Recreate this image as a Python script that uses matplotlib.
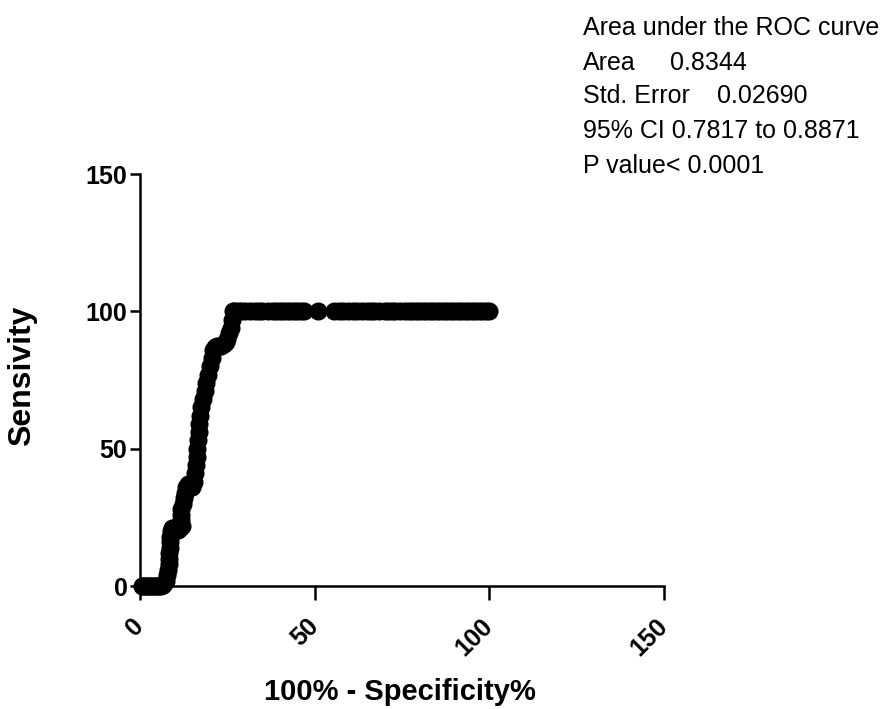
import matplotlib
matplotlib.use('Agg')
from matplotlib import pyplot as plt

# ROC points (100% - specificity%, sensitivity%)
spec_x = [0.5, 1, 1.5, 2, 2.5, 3, 3.5, 4, 4.5, 5, 5.5, 6, 6.5, 7,
          7.5, 7.8, 8, 8.2, 8.3, 8.4, 8.5, 8.6, 8.7, 8.8, 9.2, 9.8, 10.5, 11, 11.5, 12,
          11.8, 11.7, 11.8, 12.2, 12.5, 12.8, 13.2, 13.8, 14.5, 15,
          15.5, 15.8, 16, 16.2, 16.4, 16.6, 16.8, 17, 17.3, 17.6, 18, 18.5, 19, 19.5,
          20, 20.5, 21, 21.5, 22, 22.7, 23.3, 24, 24.5, 25, 25.5, 26, 26.3, 26.5,
          27, 28, 29, 30, 31.5, 33, 34, 35, 36.5, 38, 39, 40, 41, 42, 43, 44, 45, 46, 47,
          51, 55.5, 57, 58, 59.5, 61, 62, 63.5, 65, 66, 67, 68.5, 70, 71, 72, 73, 74.5,
          76, 77, 78, 79, 80, 81, 82, 83, 84, 85, 86, 87, 88, 89, 90, 91, 92, 93, 94,
          95, 96, 97, 98, 99, 100]
sens_y = [0, 0, 0, 0, 0, 0, 0, 0, 0, 0, 0, 0, 0.5, 1,
          2, 4, 6, 8, 10, 12, 14, 16, 18, 20, 21, 21, 21, 20.5, 21, 22,
          24, 26, 28, 30, 32, 34, 36, 37, 36, 36,
          38, 41, 44, 47, 50, 53, 56, 59, 62, 65, 68, 71, 74, 77,
          80, 83, 86, 87, 87.5, 87.5, 87.5, 88, 89, 90, 92, 94, 97, 100,
          100, 100, 100, 100, 100, 100, 100, 100, 100, 100, 100, 100, 100, 100, 100, 100, 100, 100, 100,
          100, 100, 100, 100, 100, 100, 100, 100, 100, 100, 100, 100, 100, 100, 100, 100, 100,
          100, 100, 100, 100, 100, 100, 100, 100, 100, 100, 100, 100, 100, 100, 100, 100, 100, 100, 100,
          100, 100, 100, 100, 100, 100]

ticks = [0, 50, 100, 150]
stats_title = 'Area under the ROC curve'
stats_rows = [('Area', '0.8344'), ('Std. Error', '0.02690')]
ci_text = '95% CI 0.7817 to 0.8871'
p_text = 'P value< 0.0001'

plt.rcParams['font.family'] = ['Liberation Sans', 'DejaVu Sans']

fig = plt.figure(figsize=(8.9, 7.09), dpi=100)
ax = fig.add_axes([140/890, 1-586/709, 524/890, 412/709])

ax.plot(spec_x, sens_y, 'o', color='black', markersize=12, clip_on=False)

ax.set_xlim(0, 150)
ax.set_ylim(0, 150)
ax.set_xticks(ticks)
ax.set_yticks(ticks)
ax.spines['top'].set_visible(False)
ax.spines['right'].set_visible(False)
ax.spines['left'].set_linewidth(1.8)
ax.spines['bottom'].set_linewidth(1.8)
ax.tick_params(axis='x', length=10, width=1.8, pad=16, labelsize=18)
ax.tick_params(axis='y', length=7.5, width=1.8, pad=1.5, labelsize=18)
for lab in ax.get_xticklabels():
    lab.set_rotation(45)
    lab.set_ha('right')
    lab.set_va('center')
    lab.set_rotation_mode('anchor')
    lab.set_fontweight('bold')
for lab in ax.get_yticklabels():
    lab.set_fontweight('bold')

ax.set_xlabel('100% - Specificity%', fontsize=21, fontweight='bold')
ax.set_ylabel('Sensivity', fontsize=23, fontweight='bold')
ax.xaxis.set_label_coords(0.496, -0.224)
ax.yaxis.set_label_coords(-0.197, 0.51)

# stats box in the top right corner
x0 = 583/890
fig.text(x0, 1-35/709, stats_title, fontsize=18, va='baseline')
fig.text(x0, 1-70/709, stats_rows[0][0], fontsize=18, va='baseline')
fig.text(670/890, 1-70/709, stats_rows[0][1], fontsize=18, va='baseline')
fig.text(x0, 1-103/709, stats_rows[1][0], fontsize=18, va='baseline')
fig.text(717/890, 1-103/709, stats_rows[1][1], fontsize=18, va='baseline')
fig.text(x0, 1-138/709, ci_text, fontsize=18, va='baseline')
fig.text(x0, 1-173/709, p_text, fontsize=18, va='baseline')

plt.savefig('out.png', dpi=100)
plt.close()
